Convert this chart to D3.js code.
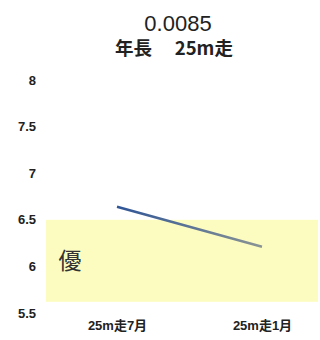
<!DOCTYPE html>
<html>
<head>
<meta charset="utf-8">
<script src="https://cdn.jsdelivr.net/npm/d3@7"></script>
<style>
  body { margin: 0; background: #fff; }
  text { fill: #222; }
</style>
</head>
<body>
<div id="chart"></div>
<script>
const categories = ["25m走7月", "25m走1月"];
const values = [6.64, 6.21];
const yTicks = [5.5, 6, 6.5, 7, 7.5, 8];
const band = [5.62, 6.5];
const bandLabel = "優";
const title = "0.0085";
const subtitle = "年長\u3000 25m走";

const width = 320, height = 340;
const margin = { top: 80, right: 2, bottom: 27, left: 46 };

const svg = d3.select("#chart").append("svg")
  .attr("width", width)
  .attr("height", height);

const y = d3.scaleLinear()
  .domain([5.5, 8])
  .range([height - margin.bottom, margin.top]);

const x = d3.scalePoint()
  .domain(categories)
  .range([117, 262]);

// band
svg.append("rect")
  .attr("x", margin.left)
  .attr("y", y(band[1]))
  .attr("width", width - margin.right - margin.left)
  .attr("height", y(band[0]) - y(band[1]))
  .attr("fill", "#fdfcc0");

svg.append("text")
  .attr("x", 70)
  .attr("y", (y(band[0]) + y(band[1])) / 2 + 8)
  .attr("text-anchor", "middle")
  .style("font-family", "'Noto Sans CJK JP'")
  .style("font-weight", "normal")
  .style("font-size", "23px")
  .style("fill", "#333")
  .text(bandLabel);

// y axis
const yAxis = d3.axisLeft(y)
  .tickValues(yTicks)
  .tickSize(0)
  .tickPadding(0)
  .tickFormat(d3.format(""));

svg.append("g")
  .attr("transform", "translate(36,0)")
  .call(yAxis)
  .call(g => g.select(".domain").remove())
  .selectAll("text")
  .style("font-family", "'Liberation Sans', Arial, sans-serif")
  .style("font-weight", "bold")
  .style("font-size", "13px")
  .style("fill", "#222");

// x axis
const xAxis = d3.axisBottom(x).tickSize(0).tickPadding(0);
svg.append("g")
  .attr("transform", `translate(0,${height - 19})`)
  .call(xAxis)
  .call(g => g.select(".domain").remove())
  .selectAll("text")
  .style("font-family", "'Liberation Sans', 'Noto Sans CJK JP', sans-serif")
  .style("font-weight", "bold")
  .style("font-size", "13px")
  .style("fill", "#222");

// line gradient
const defs = svg.append("defs");
const grad = defs.append("linearGradient")
  .attr("id", "lineGrad")
  .attr("gradientUnits", "userSpaceOnUse")
  .attr("x1", x(categories[0])).attr("x2", x(categories[1]))
  .attr("y1", 0).attr("y2", 0);
grad.append("stop").attr("offset", "0%").attr("stop-color", "#2f5597");
grad.append("stop").attr("offset", "100%").attr("stop-color", "#8a9494");

const line = d3.line()
  .x((d, i) => x(categories[i]))
  .y(d => y(d));

svg.append("path")
  .datum(values)
  .attr("d", line)
  .attr("fill", "none")
  .attr("stroke", "url(#lineGrad)")
  .attr("stroke-width", 2.5);

// titles
svg.append("text")
  .attr("x", 178)
  .attr("y", 31)
  .attr("text-anchor", "middle")
  .style("font-family", "'Liberation Sans', Arial, sans-serif")
  .style("font-size", "22px")
  .text(title);

svg.append("text")
  .attr("x", 174)
  .attr("y", 55)
  .attr("text-anchor", "middle")
  .style("font-family", "'Noto Sans CJK JP', sans-serif")
  .style("font-weight", "bold")
  .style("font-size", "18.5px")
  .text(subtitle);
</script>
</body>
</html>
